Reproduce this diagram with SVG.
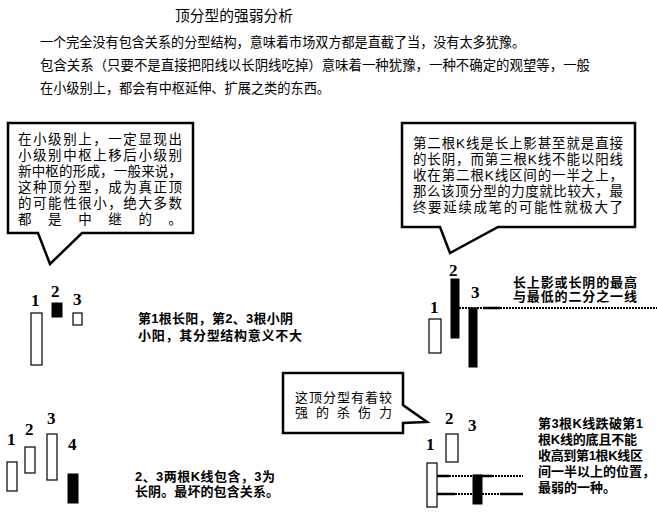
<svg xmlns="http://www.w3.org/2000/svg" width="657" height="513" viewBox="0 0 657 513">
<style>
.cjk{font-family:"Liberation Sans","Noto Sans CJK SC",sans-serif;fill:#000}
.body{font-size:13.5px}
.call{font-size:13.5px}
.bold{font-size:13px;font-weight:bold}
.num{font-family:"Liberation Serif",serif;font-weight:bold;font-size:17px;fill:#000}
.bubble{fill:#fff;stroke:#000;stroke-width:2.5;stroke-linejoin:miter}
.up{fill:#fff;stroke:#000;stroke-width:1.2}
.down{fill:#000;stroke:#000;stroke-width:1}
.dot{stroke:#000;stroke-width:2;stroke-dasharray:2 1;fill:none}
.sol{stroke:#000;stroke-width:2.5;fill:none}
</style>
<rect width="657" height="513" fill="#fff"/>
<g id="header">
<text class="cjk" x="175" y="21" font-size="15" textLength="118" lengthAdjust="spacingAndGlyphs">顶分型的强弱分析</text>
<text class="cjk body"><tspan x="40" y="47" textLength="485" lengthAdjust="spacingAndGlyphs">一个完全没有包含关系的分型结构，意味着市场双方都是直截了当，没有太多犹豫。</tspan><tspan x="40" y="70" textLength="550" lengthAdjust="spacingAndGlyphs">包含关系（只要不是直接把阳线以长阴线吃掉）意味着一种犹豫，一种不确定的观望等，一般</tspan><tspan x="40" y="93" textLength="290" lengthAdjust="spacingAndGlyphs">在小级别上，都会有中枢延伸、扩展之类的东西。</tspan></text>
</g>
<g id="callout-left">
<path class="bubble" d="M8,123 H193 V233 H82 L50,264 L38,233 H8 Z"/>
<text class="cjk call"><tspan x="18" y="144" textLength="164" lengthAdjust="spacing">在小级别上，一定显现出</tspan><tspan x="18" y="160" textLength="164" lengthAdjust="spacing">小级别中枢上移后小级别</tspan><tspan x="18" y="176" textLength="164" lengthAdjust="spacing">新中枢的形成，一般来说，</tspan><tspan x="18" y="192" textLength="164" lengthAdjust="spacing">这种顶分型，成为真正顶</tspan><tspan x="18" y="208" textLength="164" lengthAdjust="spacing">的可能性很小，绝大多数</tspan><tspan x="18" y="224" textLength="164" lengthAdjust="spacing">都是中继的。</tspan></text>
</g>
<g id="callout-right">
<path class="bubble" d="M402,123 H635 V227 H498 L450,253 L440,227 H402 Z"/>
<text class="cjk call"><tspan x="413" y="148" textLength="210" lengthAdjust="spacing">第二根K线是长上影甚至就是直接</tspan><tspan x="413" y="164" textLength="210" lengthAdjust="spacing">的长阴，而第三根K线不能以阳线</tspan><tspan x="413" y="180" textLength="210" lengthAdjust="spacing">收在第二根K线区间的一半之上，</tspan><tspan x="413" y="196" textLength="210" lengthAdjust="spacing">那么该顶分型的力度就比较大，最</tspan><tspan x="413" y="212" textLength="210" lengthAdjust="spacing">终要延续成笔的可能性就极大了</tspan></text>
</g>
<g id="callout-middle">
<path class="bubble" d="M283,373 H403 V405 L427,422 L403,423 V433 H283 Z"/>
<text class="cjk" font-size="13"><tspan x="295" y="402" textLength="97" lengthAdjust="spacing">这顶分型有着较</tspan><tspan x="295" y="417" textLength="97" lengthAdjust="spacing">强的杀伤力</tspan></text>
</g>
<g id="pattern-1">
<text class="num" x="31" y="306">1</text>
<rect class="up" x="31" y="313" width="11" height="52"/>
<text class="num" x="51" y="297">2</text>
<rect class="down" x="52" y="303" width="10" height="14"/>
<text class="num" x="73" y="305">3</text>
<rect class="up" x="73" y="313" width="9" height="12"/>
<text class="cjk bold"><tspan x="138" y="323" textLength="155" lengthAdjust="spacing">第1根长阳，第2、3根小阴</tspan><tspan x="138" y="340" textLength="164" lengthAdjust="spacing">小阳，其分型结构意义不大</tspan></text>
</g>
<g id="pattern-2">
<text class="num" x="430" y="313">1</text>
<rect class="up" x="429" y="319" width="12" height="34"/>
<text class="num" x="449" y="276">2</text>
<rect class="down" x="451" y="279" width="8" height="59"/>
<text class="num" x="471" y="298">3</text>
<rect class="down" x="469" y="308" width="8" height="59"/>
<text class="cjk bold" font-size="12.5"><tspan x="513" y="287" textLength="124" lengthAdjust="spacing">长上影或长阴的最高</tspan><tspan x="513" y="301" textLength="124" lengthAdjust="spacing">与最低的二分之一线</tspan></text>
</g>
<g id="pattern-3">
<text class="num" x="7" y="445">1</text>
<rect class="up" x="7" y="462" width="10" height="29"/>
<text class="num" x="25" y="435">2</text>
<rect class="up" x="25" y="447" width="10" height="26"/>
<text class="num" x="47" y="424">3</text>
<rect class="up" x="47" y="434" width="10" height="46"/>
<text class="num" x="68" y="450">4</text>
<rect class="down" x="68" y="474" width="10" height="29"/>
<text class="cjk bold"><tspan x="135" y="481" textLength="140" lengthAdjust="spacing">2、3两根K线包含，3为</tspan><tspan x="135" y="496" textLength="144" lengthAdjust="spacing">长阴。最坏的包含关系。</tspan></text>
</g>
<g id="pattern-4">
<text class="num" x="426" y="450">1</text>
<rect class="up" x="427" y="463" width="10" height="44"/>
<text class="num" x="445" y="424">2</text>
<rect class="up" x="446" y="434" width="12" height="28"/>
<text class="num" x="468" y="431">3</text>
<rect class="down" x="473" y="475" width="9" height="29"/>
<text class="cjk bold"><tspan x="538" y="428" textLength="105" lengthAdjust="spacing">第3根K线跌破第1</tspan><tspan x="538" y="444" textLength="99" lengthAdjust="spacing">根K线的底且不能</tspan><tspan x="538" y="460" textLength="105" lengthAdjust="spacing">收高到第1根K线区</tspan><tspan x="538" y="476" textLength="117" lengthAdjust="spacing">间一半以上的位置，</tspan><tspan x="538" y="492">最弱的一种。</tspan></text>
</g>
<g id="connectors">
<line class="dot" x1="459" y1="308" x2="483" y2="308"/>
<line class="sol" x1="483" y1="308" x2="500" y2="308"/>
<line class="dot" x1="500" y1="308" x2="657" y2="308"/>
<line class="sol" x1="437" y1="476" x2="449" y2="476"/>
<line class="dot" x1="449" y1="476" x2="473" y2="476"/>
<line class="sol" x1="473" y1="476" x2="492" y2="476"/>
<line class="dot" x1="492" y1="476" x2="523" y2="476"/>
<line class="sol" x1="437" y1="494" x2="455" y2="494"/>
<line class="dot" x1="455" y1="494" x2="473" y2="494"/>
<line class="dot" x1="482" y1="494" x2="500" y2="494"/>
<line class="sol" x1="500" y1="494" x2="523" y2="494"/>
</g>
</svg>
